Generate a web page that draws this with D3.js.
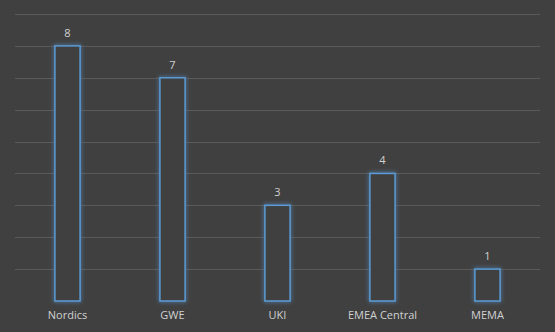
<!DOCTYPE html>
<html>
<head>
<meta charset="utf-8">
<script src="https://cdn.jsdelivr.net/npm/d3@7"></script>
<style>
  html, body { margin: 0; padding: 0; background: #404040; }
  svg { display: block; }
</style>
</head>
<body>
<svg id="chart" width="555" height="332"></svg>
<script>
// Regions and their counts
const categories = ["Nordics", "GWE", "UKI", "EMEA Central", "MEMA"];
const values = [8, 7, 3, 4, 1];
const yTicks = [0, 1, 2, 3, 4, 5, 6, 7, 8, 9];

const W = 555, H = 332;
const margin = { top: 14, right: 15, bottom: 31, left: 15 };
const svg = d3.select("#chart");

svg.append("rect").attr("width", W).attr("height", H).attr("fill", "#404040");

const defs = svg.append("defs");
const glow = defs.append("filter").attr("id", "glow")
  .attr("x", "-50%").attr("y", "-50%").attr("width", "200%").attr("height", "200%");
glow.append("feGaussianBlur").attr("in", "SourceGraphic").attr("stdDeviation", 2).attr("result", "b");
const merge = glow.append("feMerge");
merge.append("feMergeNode").attr("in", "b");
merge.append("feMergeNode").attr("in", "SourceGraphic");

const x = d3.scaleBand()
  .domain(categories)
  .range([margin.left, W - margin.right])
  .paddingInner(0.76)
  .paddingOuter(0.38);

const y = d3.scaleLinear()
  .domain([0, 9])
  .range([H - margin.bottom, margin.top]);

// Horizontal gridlines
svg.append("g")
  .selectAll("line")
  .data(yTicks.filter(t => t > 0))
  .join("line")
  .attr("x1", margin.left)
  .attr("x2", W - margin.right)
  .attr("y1", d => Math.round(y(d)) + 0.5)
  .attr("y2", d => Math.round(y(d)) + 0.5)
  .attr("stroke", "#5a5a5a")
  .attr("stroke-width", 1);

// Category axis labels
const xAxis = d3.axisBottom(x).tickSize(0).tickPadding(10);
const gx = svg.append("g")
  .attr("transform", `translate(0,${H - margin.bottom})`)
  .call(xAxis);
gx.select(".domain").remove();
gx.selectAll("text")
  .attr("fill", "#d0d0d0")
  .attr("font-family", "'Open Sans', 'Liberation Sans', sans-serif")
  .attr("font-size", 11);

// Outlined bars with glow
svg.append("g")
  .selectAll("rect")
  .data(values)
  .join("rect")
  .attr("x", (d, i) => x(categories[i]))
  .attr("y", d => y(d))
  .attr("width", x.bandwidth())
  .attr("height", d => y(0) - y(d))
  .attr("fill", "#404040")
  .attr("stroke", "#5b9bd5")
  .attr("stroke-width", 1.5)
  .attr("filter", "url(#glow)");

// Value labels
svg.append("g")
  .selectAll("text")
  .data(values)
  .join("text")
  .attr("x", (d, i) => x(categories[i]) + x.bandwidth() / 2)
  .attr("y", d => y(d) - 9)
  .attr("text-anchor", "middle")
  .attr("fill", "#d0d0d0")
  .attr("font-family", "'Open Sans', 'Liberation Sans', sans-serif")
  .attr("font-size", 11)
  .text(d => d);
</script>
</body>
</html>
